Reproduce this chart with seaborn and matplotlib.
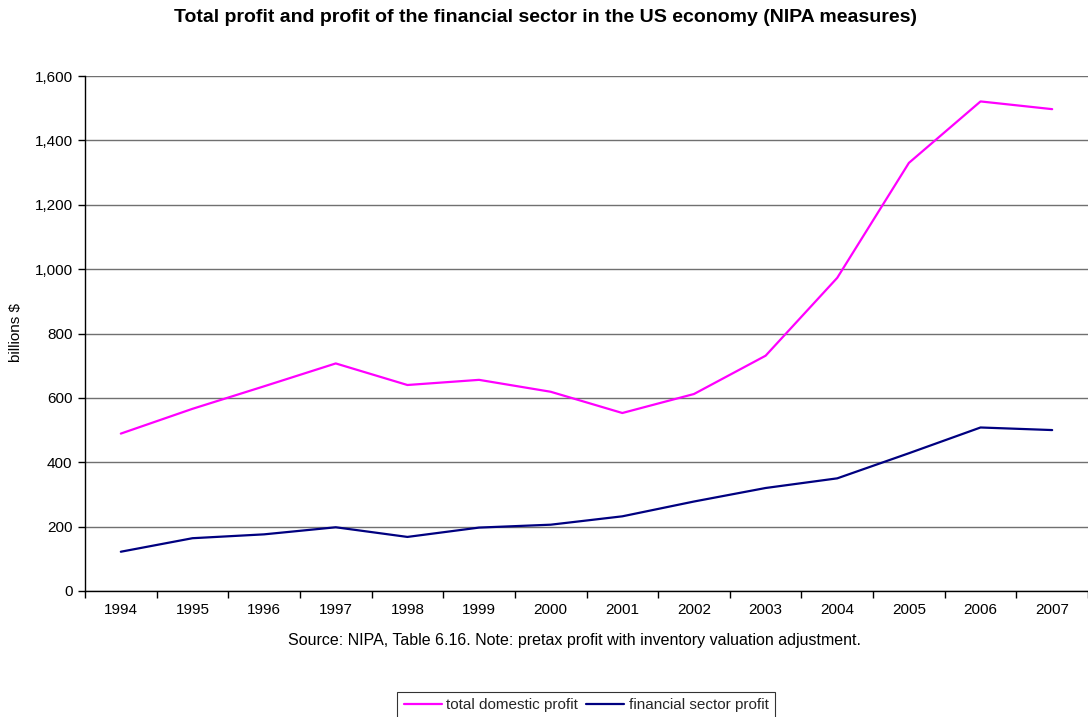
import matplotlib
matplotlib.use("Agg")
import matplotlib.pyplot as plt
from matplotlib.ticker import FuncFormatter, FixedLocator
from matplotlib.lines import Line2D
import seaborn as sns
import pandas as pd
import numpy as np

years = ["1994", "1995", "1996", "1997", "1998", "1999", "2000",
         "2001", "2002", "2003", "2004", "2005", "2006", "2007"]
total_domestic = [489, 566, 636, 707, 640, 656, 619, 553, 612, 731, 973, 1330, 1521, 1497]
financial_sector = [122, 164, 176, 198, 168, 197, 206, 232, 278, 320, 350, 428, 508, 500]
series_names = ["total domestic profit", "financial sector profit"]
colors = ["#FF00FF", "#000080"]
yticks = [0, 200, 400, 600, 800, 1000, 1200, 1400, 1600]

sns.set_theme(style="white")
plt.rcParams['font.family'] = ['Liberation Sans', 'DejaVu Sans']

df = pd.DataFrame({
    "idx": list(range(len(years))) * 2,
    "value": total_domestic + financial_sector,
    "series": [series_names[0]] * len(years) + [series_names[1]] * len(years),
})

fig = plt.figure(figsize=(10.88, 7.17), dpi=100)
ax = fig.add_axes([85 / 1088, 1 - 591 / 717, 1 - 85 / 1088, (591 - 76) / 717])

sns.lineplot(data=df, x="idx", y="value", hue="series", palette=colors,
             hue_order=series_names, linewidth=1.6, ax=ax, legend=False)

ax.set_xlim(-0.5, len(years) - 0.5)
ax.set_ylim(0, 1600)
ax.set_yticks(yticks)
ax.yaxis.set_major_formatter(FuncFormatter(lambda v, p: f"{int(v):,}"))
ax.set_xticks(range(len(years)))
ax.set_xticklabels(years)
ax.xaxis.set_minor_locator(FixedLocator(np.arange(-0.5, len(years), 1.0)))
ax.tick_params(axis="x", which="major", length=0, labelsize=11, pad=9, colors="black")
ax.tick_params(axis="x", which="minor", length=5, width=1, direction="out", bottom=True, color="black")
ax.tick_params(axis="y", which="major", length=5, width=1, direction="out", left=True,
               labelsize=11, pad=4, colors="black")
ax.grid(axis="y", color="#707070", linewidth=1)
ax.set_axisbelow(True)
for s in ["top", "right"]:
    ax.spines[s].set_visible(False)
for s in ["left", "bottom"]:
    ax.spines[s].set_color("black")
    ax.spines[s].set_linewidth(1)
ax.set_xlabel("")
ax.set_ylabel("billions $", fontsize=11, color="black", va="center")
ax.yaxis.set_label_coords((16 - 85) / 1003, (591 - 333) / 515)

fig.text(545 / 1088, 1 - 17 / 717,
         "Total profit and profit of the financial sector in the US economy (NIPA measures)",
         ha="center", va="center", fontsize=14, fontweight="bold", color="black")
fig.text(574 / 1088, 1 - 641 / 717,
         "Source: NIPA, Table 6.16. Note: pretax profit with inventory valuation adjustment.",
         ha="center", va="center", fontsize=11.5, color="black")

handles = [Line2D([0], [0], color=c, linewidth=1.6) for c in colors]
leg = fig.legend(handles, series_names, loc="center", bbox_to_anchor=(586 / 1088, 1 - 705 / 717),
                 ncol=2, frameon=True, fancybox=False, fontsize=11, handlelength=2.5,
                 handletextpad=0.3, columnspacing=0.5, borderpad=0.4, borderaxespad=0)
leg.get_frame().set_edgecolor("black")
leg.get_frame().set_linewidth(0.8)

fig.savefig("out.png", dpi=100)
